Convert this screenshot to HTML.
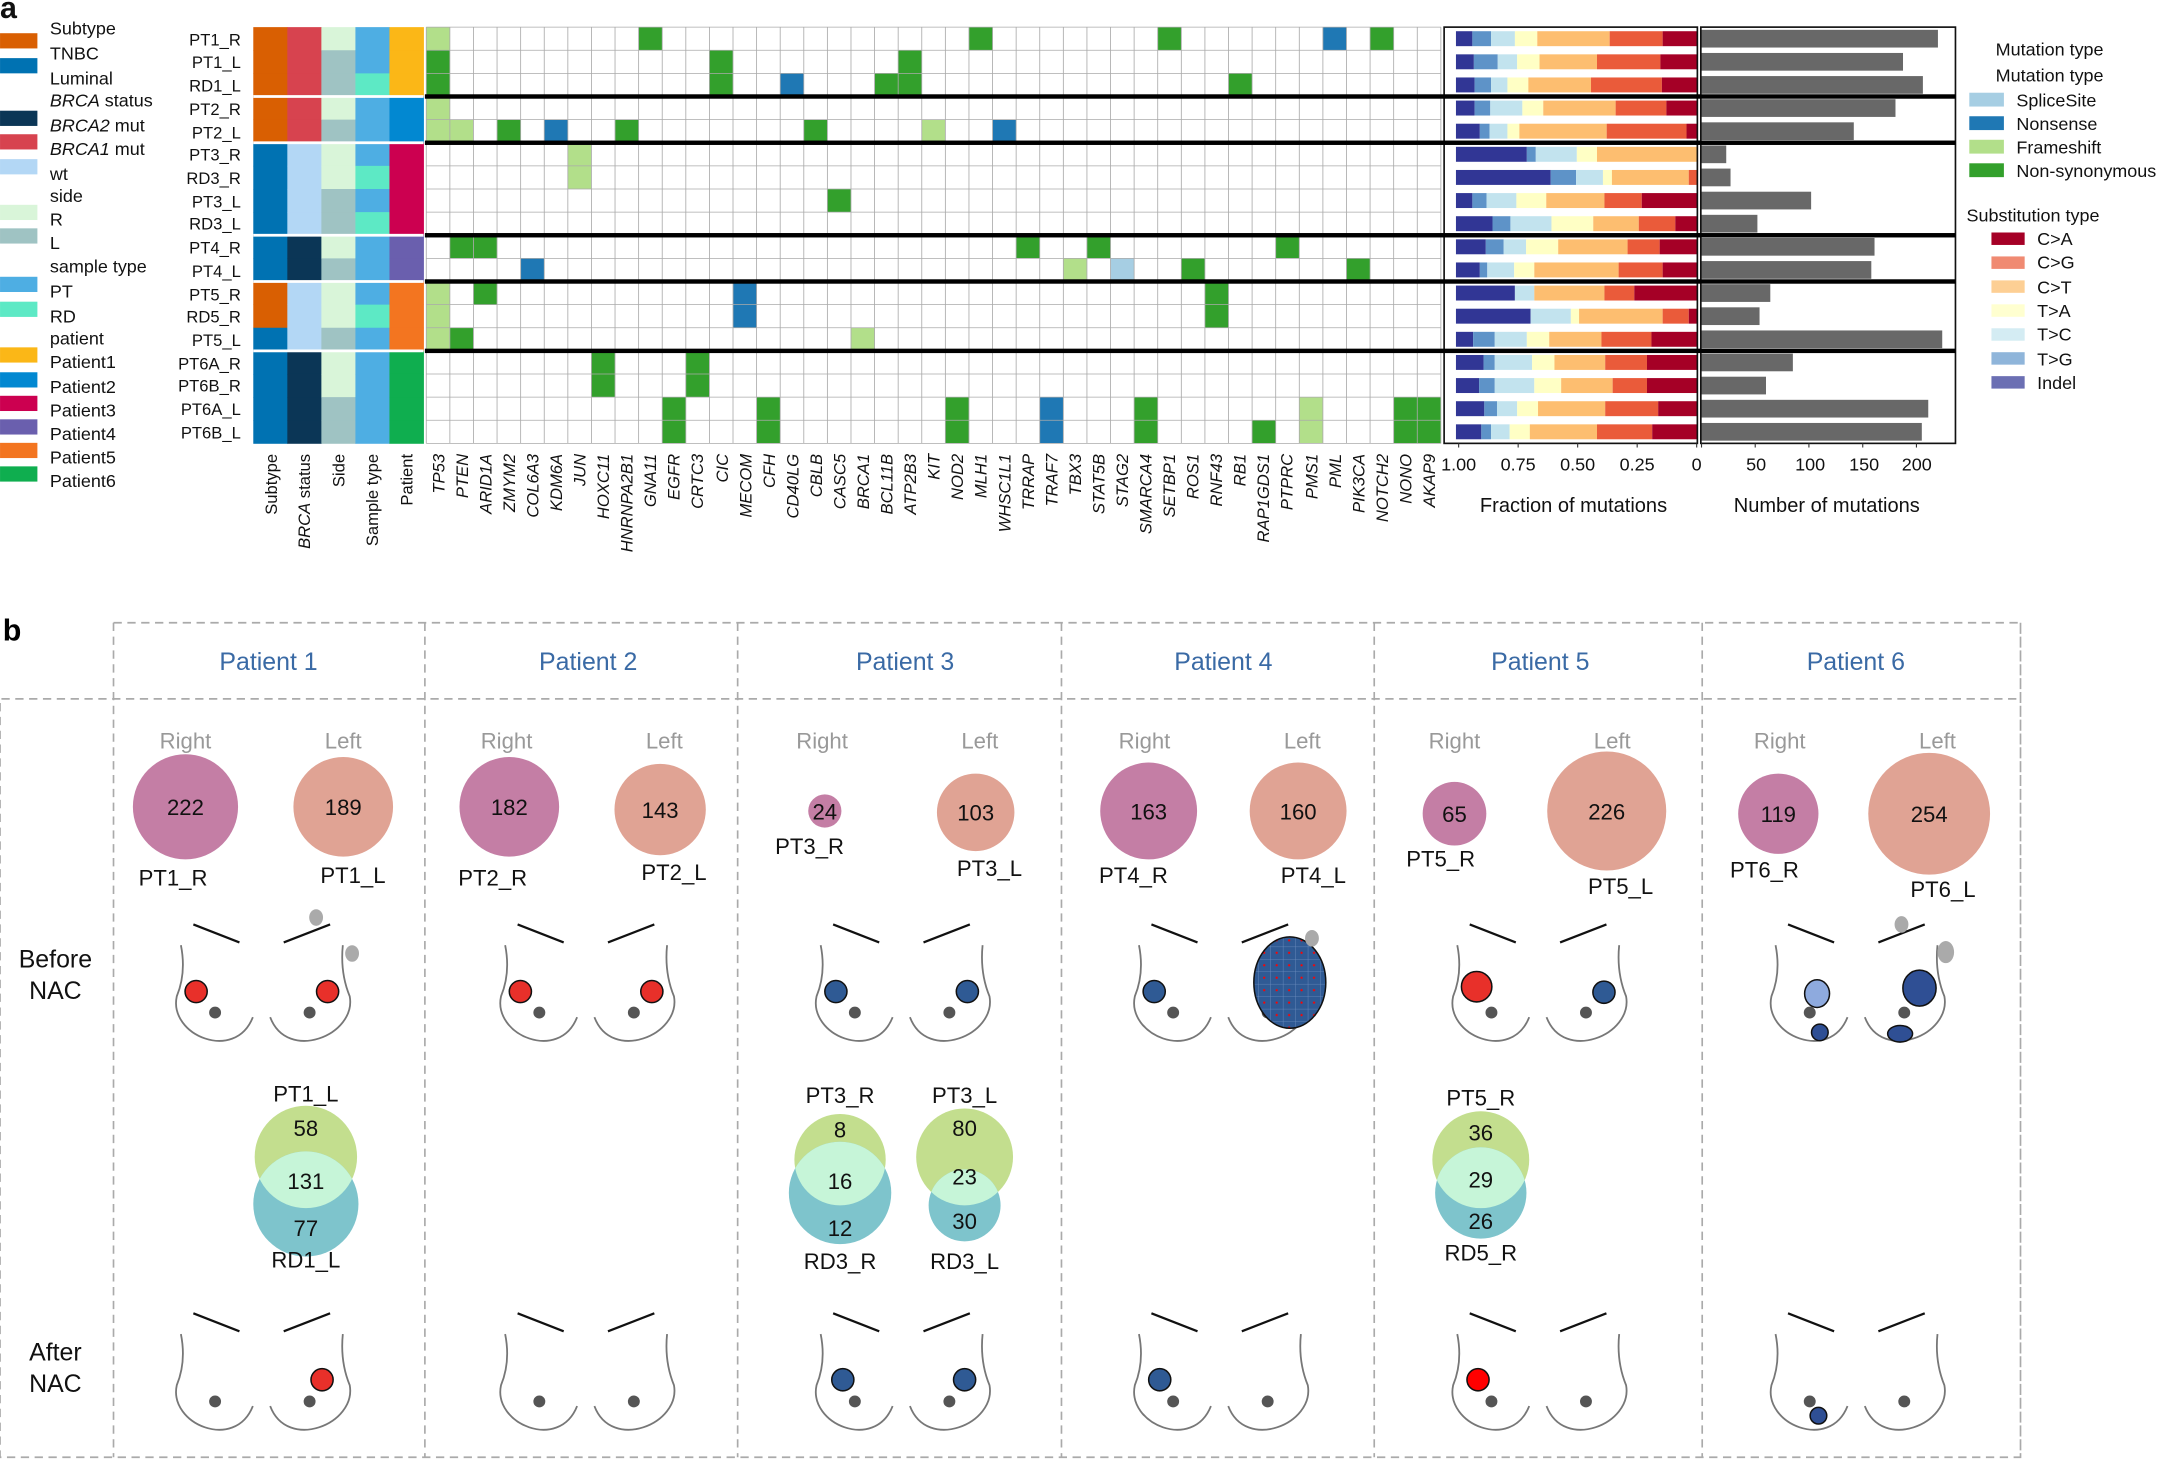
<!DOCTYPE html>
<html><head><meta charset="utf-8"><style>
html,body{margin:0;padding:0;background:#fff}
svg{display:block}
text{font-family:"Liberation Sans",sans-serif}
</style></head><body>
<svg id="s" width="2170" height="1460" viewBox="0 0 1568 1055" xmlns="http://www.w3.org/2000/svg">
<defs>
<pattern id="hatch" width="9" height="9" patternUnits="userSpaceOnUse"><rect width="9" height="9" fill="#2f5a94"/><path d="M0 0H9M0 0V9" stroke="#6f8fbf" stroke-width="0.6"/><circle cx="4.5" cy="4.5" r="0.8" fill="#f00"/></pattern>
</defs>
<g id="dyn"></g>
<!-- left legend text -->
<g font-size="13" fill="#111">
<text x="0" y="13" font-size="22" font-weight="bold">a</text>
<text x="36" y="25">Subtype</text><text x="36" y="43">TNBC</text><text x="36" y="61">Luminal</text>
<text x="36" y="77"><tspan font-style="italic">BRCA</tspan> status</text>
<text x="36" y="95"><tspan font-style="italic">BRCA2</tspan> mut</text><text x="36" y="112"><tspan font-style="italic">BRCA1</tspan> mut</text>
<text x="36" y="130">wt</text><text x="36" y="146">side</text><text x="36" y="163">R</text><text x="36" y="180">L</text>
<text x="36" y="197">sample type</text><text x="36" y="215">PT</text><text x="36" y="233">RD</text><text x="36" y="249">patient</text>
<text x="36" y="266">Patient1</text><text x="36" y="284">Patient2</text><text x="36" y="301">Patient3</text><text x="36" y="318">Patient4</text><text x="36" y="335">Patient5</text><text x="36" y="352">Patient6</text>
</g>
<g font-size="12" fill="#111" text-anchor="end">
<text x="174" y="33">PT1_R</text><text x="174" y="49">PT1_L</text><text x="174" y="66">RD1_L</text><text x="174" y="83">PT2_R</text><text x="174" y="100">PT2_L</text><text x="174" y="116">PT3_R</text><text x="174" y="133">RD3_R</text><text x="174" y="150">PT3_L</text><text x="174" y="166">RD3_L</text><text x="174" y="183">PT4_R</text><text x="174" y="200">PT4_L</text><text x="174" y="217">PT5_R</text><text x="174" y="233">RD5_R</text><text x="174" y="250">PT5_L</text><text x="174" y="267">PT6A_R</text><text x="174" y="283">PT6B_R</text><text x="174" y="300">PT6A_L</text><text x="174" y="317">PT6B_L</text>
</g>
<g font-size="12" fill="#111" text-anchor="end">
<text transform="translate(200,328) rotate(-90)">Subtype</text>
<text transform="translate(224,328) rotate(-90)"><tspan font-style="italic">BRCA</tspan> status</text>
<text transform="translate(249,328) rotate(-90)">Side</text>
<text transform="translate(273,328) rotate(-90)">Sample type</text>
<text transform="translate(298,328) rotate(-90)">Patient</text>
</g>
<g id="genes" font-size="12" fill="#111" text-anchor="end" font-style="italic">
<text transform="translate(321,328) rotate(-90)">TP53</text><text transform="translate(338,328) rotate(-90)">PTEN</text><text transform="translate(355,328) rotate(-90)">ARID1A</text><text transform="translate(372,328) rotate(-90)">ZMYM2</text><text transform="translate(389,328) rotate(-90)">COL6A3</text><text transform="translate(406,328) rotate(-90)">KDM6A</text><text transform="translate(423,328) rotate(-90)">JUN</text><text transform="translate(440,328) rotate(-90)">HOXC11</text><text transform="translate(457,328) rotate(-90)">HNRNPA2B1</text><text transform="translate(474,328) rotate(-90)">GNA11</text><text transform="translate(491,328) rotate(-90)">EGFR</text><text transform="translate(508,328) rotate(-90)">CRTC3</text><text transform="translate(526,328) rotate(-90)">CIC</text><text transform="translate(543,328) rotate(-90)">MECOM</text><text transform="translate(560,328) rotate(-90)">CFH</text><text transform="translate(577,328) rotate(-90)">CD40LG</text><text transform="translate(594,328) rotate(-90)">CBLB</text><text transform="translate(611,328) rotate(-90)">CASC5</text><text transform="translate(628,328) rotate(-90)">BRCA1</text><text transform="translate(645,328) rotate(-90)">BCL11B</text><text transform="translate(662,328) rotate(-90)">ATP2B3</text><text transform="translate(679,328) rotate(-90)">KIT</text><text transform="translate(696,328) rotate(-90)">NOD2</text><text transform="translate(713,328) rotate(-90)">MLH1</text><text transform="translate(730,328) rotate(-90)">WHSC1L1</text><text transform="translate(747,328) rotate(-90)">TRRAP</text><text transform="translate(764,328) rotate(-90)">TRAF7</text><text transform="translate(781,328) rotate(-90)">TBX3</text><text transform="translate(798,328) rotate(-90)">STAT5B</text><text transform="translate(815,328) rotate(-90)">STAG2</text><text transform="translate(832,328) rotate(-90)">SMARCA4</text><text transform="translate(849,328) rotate(-90)">SETBP1</text><text transform="translate(866,328) rotate(-90)">ROS1</text><text transform="translate(883,328) rotate(-90)">RNF43</text><text transform="translate(900,328) rotate(-90)">RB1</text><text transform="translate(917,328) rotate(-90)">RAP1GDS1</text><text transform="translate(934,328) rotate(-90)">PTPRC</text><text transform="translate(952,328) rotate(-90)">PMS1</text><text transform="translate(969,328) rotate(-90)">PML</text><text transform="translate(986,328) rotate(-90)">PIK3CA</text><text transform="translate(1003,328) rotate(-90)">NOTCH2</text><text transform="translate(1020,328) rotate(-90)">NONO</text><text transform="translate(1037,328) rotate(-90)">AKAP9</text>
</g>
<g font-size="13" fill="#111" text-anchor="middle">
<text x="1054" y="340">1.00</text><text x="1097" y="340">0.75</text><text x="1140" y="340">0.50</text><text x="1183" y="340">0.25</text><text x="1226" y="340">0</text>
<text x="1137" y="370" font-size="14.5">Fraction of mutations</text>
<text x="1269" y="340">50</text><text x="1308" y="340">100</text><text x="1347" y="340">150</text><text x="1385" y="340">200</text>
<text x="1320" y="370" font-size="14.5">Number of mutations</text>
</g>
<g font-size="13" fill="#111">
<text x="1442" y="40">Mutation type</text><text x="1442" y="59">Mutation type</text>
<text x="1457" y="77">SpliceSite</text><text x="1457" y="94">Nonsense</text><text x="1457" y="111">Frameshift</text><text x="1457" y="128">Non-synonymous</text>
<text x="1421" y="160">Substitution type</text>
<text x="1472" y="177">C&gt;A</text><text x="1472" y="194">C&gt;G</text><text x="1472" y="212">C&gt;T</text><text x="1472" y="229">T&gt;A</text><text x="1472" y="246">T&gt;C</text><text x="1472" y="264">T&gt;G</text><text x="1472" y="281">Indel</text>
</g>
<!-- panel b -->
<text x="2" y="463" font-size="22" font-weight="bold">b</text>
<g fill="none" stroke="#aaa" stroke-width="1.2" stroke-dasharray="6,4">
<path d="M82 450H1460V1053H0V505H1460M82 450V1053M307 450V1053M533 450V1053M767 450V1053M993 450V1053M1230 450V1053M1460 450V1053"/>
</g>
<g font-size="18" fill="#3a6aa5" text-anchor="middle">
<text x="194" y="484">Patient 1</text><text x="425" y="484">Patient 2</text><text x="654" y="484">Patient 3</text><text x="884" y="484">Patient 4</text><text x="1113" y="484">Patient 5</text><text x="1341" y="484">Patient 6</text>
</g>
<g font-size="18" fill="#111" text-anchor="middle">
<text x="40" y="699">Before</text><text x="40" y="722">NAC</text>
<text x="40" y="983">After</text><text x="40" y="1006">NAC</text>
</g>
<g font-size="16" fill="#999" text-anchor="middle">
<text x="134" y="541">Right</text><text x="248" y="541">Left</text>
<text x="366" y="541">Right</text><text x="480" y="541">Left</text>
<text x="594" y="541">Right</text><text x="708" y="541">Left</text>
<text x="827" y="541">Right</text><text x="941" y="541">Left</text>
<text x="1051" y="541">Right</text><text x="1165" y="541">Left</text>
<text x="1286" y="541">Right</text><text x="1400" y="541">Left</text>
</g>
<g id="circ"></g>
<g font-size="16" fill="#111" text-anchor="middle">
<text x="134" y="589">222</text><text x="248" y="589">189</text>
<text x="368" y="589">182</text><text x="477" y="591">143</text>
<text x="596" y="592">24</text><text x="705" y="593">103</text>
<text x="830" y="592">163</text><text x="938" y="592">160</text>
<text x="1051" y="594">65</text><text x="1161" y="592">226</text>
<text x="1285" y="594">119</text><text x="1394" y="594">254</text>
<text x="125" y="640">PT1_R</text><text x="255" y="638">PT1_L</text>
<text x="356" y="640">PT2_R</text><text x="487" y="636">PT2_L</text>
<text x="585" y="617">PT3_R</text><text x="715" y="633">PT3_L</text>
<text x="819" y="638">PT4_R</text><text x="949" y="638">PT4_L</text>
<text x="1041" y="626">PT5_R</text><text x="1171" y="646">PT5_L</text>
<text x="1275" y="634">PT6_R</text><text x="1404" y="648">PT6_L</text>
<text x="221" y="796">PT1_L</text><text x="221" y="821">58</text><text x="221" y="859">131</text><text x="221" y="893">77</text><text x="221" y="916">RD1_L</text>
<text x="607" y="797">PT3_R</text><text x="607" y="822">8</text><text x="607" y="859">16</text><text x="607" y="893">12</text><text x="607" y="917">RD3_R</text>
<text x="697" y="797">PT3_L</text><text x="697" y="821">80</text><text x="697" y="856">23</text><text x="697" y="888">30</text><text x="697" y="917">RD3_L</text>
<text x="1070" y="799">PT5_R</text><text x="1070" y="824">36</text><text x="1070" y="858">29</text><text x="1070" y="888">26</text><text x="1070" y="911">RD5_R</text>
</g>
<script>
(function(){
var NS="http://www.w3.org/2000/svg";
var dyn=document.getElementById('dyn'), circ=document.getElementById('circ');
function el(p,tag,a){var e=document.createElementNS(NS,tag);for(var k in a)e.setAttribute(k,a[k]);p.appendChild(e);return e;}
var top=19.6,rh=16.71;
// left legend swatches
var lg=[[29,'#d95f02'],[47,'#0072b2'],[85,'#0b3656'],[102,'#d7434f'],[120,'#b3d7f5'],[153,'#d9f5d9'],[170,'#9fc3c3'],[205,'#4eaee3'],[223,'#5de9c5'],[256,'#fbb717'],[274,'#0288d1'],[291,'#cc0050'],[308,'#6a5fae'],[325,'#f37520'],[342,'#0fae4f']];
lg.forEach(function(s){el(dyn,'rect',{x:0,y:s[0]-5,width:27,height:11,fill:s[1]});});
// annotation columns
var TN='#d95f02',LU='#0072b2',BR1='#d7434f',WT='#b3d7f5',BR2='#0b3656',R='#d9f5d9',L='#9fc3c3',PT='#4eaee3',RD='#5de9c5';
var sub=[TN,TN,TN,TN,TN,LU,LU,LU,LU,LU,LU,TN,TN,LU,LU,LU,LU,LU];
var brc=[BR1,BR1,BR1,BR1,BR1,WT,WT,WT,WT,BR2,BR2,WT,WT,WT,BR2,BR2,BR2,BR2];
var side=[R,L,L,R,L,R,R,L,L,R,L,R,R,L,R,R,L,L];
var st=[PT,PT,RD,PT,PT,PT,RD,PT,RD,PT,PT,PT,RD,PT,PT,PT,PT,PT];
var pc=['#fbb717','#0288d1','#cc0050','#6a5fae','#f37520','#0fae4f'];
var pr=[0,0,0,1,1,2,2,2,2,3,3,4,4,4,5,5,5,5];
var cols=[sub,brc,side,st,pr.map(function(i){return pc[i];})];
var cx0=183,cw=24.6;
cols.forEach(function(c,j){c.forEach(function(f,i){el(dyn,'rect',{x:cx0+j*cw,y:top+i*rh,width:cw+0.3,height:rh+0.3,fill:f});});});
// heatmap grid
var gx=308,gw=17.05,ng=43,gx1=gx+gw*ng;
el(dyn,'rect',{x:gx,y:top,width:gx1-gx,height:rh*18,fill:'#fff'});
var NS_='#33a02c',FS='#b2df8a',NO='#1f78b4',SP='#a6cee3';
var cells=[[0,0,FS],[0,9,NS_],[0,23,NS_],[0,31,NS_],[0,38,NO],[0,40,NS_],
[1,0,NS_],[1,12,NS_],[1,20,NS_],
[2,0,NS_],[2,12,NS_],[2,15,NO],[2,19,NS_],[2,20,NS_],[2,34,NS_],
[3,0,FS],[4,0,FS],[4,1,FS],[4,3,NS_],[4,5,NO],[4,8,NS_],[4,16,NS_],[4,21,FS],[4,24,NO],
[5,6,FS],[6,6,FS],[7,17,NS_],
[9,1,NS_],[9,2,NS_],[9,25,NS_],[9,28,NS_],[9,36,NS_],
[10,4,NO],[10,27,FS],[10,29,SP],[10,32,NS_],[10,39,NS_],
[11,0,FS],[11,2,NS_],[11,13,NO],[11,33,NS_],
[12,0,FS],[12,13,NO],[12,33,NS_],
[13,0,FS],[13,1,NS_],[13,18,FS],
[14,7,NS_],[14,11,NS_],[15,7,NS_],[15,11,NS_]];
[16,17].forEach(function(r){[[10,NS_],[14,NS_],[22,NS_],[26,NO],[30,NS_],[37,FS],[41,NS_],[42,NS_]].forEach(function(c){cells.push([r,c[0],c[1]]);});});
cells.push([17,35,NS_]);
cells.forEach(function(c){el(dyn,'rect',{x:gx+c[1]*gw,y:top+c[0]*rh,width:gw,height:rh,fill:c[2]});});
for(var k=0;k<=ng;k++)el(dyn,'line',{x1:gx+k*gw,x2:gx+k*gw,y1:top,y2:top+18*rh,stroke:'#aaa','stroke-width':0.6});
for(var k=0;k<=18;k++)el(dyn,'line',{x1:gx,x2:gx1,y1:top+k*rh,y2:top+k*rh,stroke:'#aaa','stroke-width':0.6});
// fraction panel
var fc=['#313695','#5e93c8','#c2e3ee','#ffffc5','#fdbe70','#ea5b3a','#a50026'];
var fb=[[611,633,658,690,720,817,888,934],[611,635,667,693,723,800,885,934],[611,636,658,680,708,792,887,934],[611,636,657,700,728,825,893,934],[611,643,656,680,696,813,920,934],[611,706,718,773,800,934,934,934],[611,738,772,808,820,923,934,934],[611,633,652,692,732,810,860,934],[611,660,684,739,795,856,905,934],[611,651,675,705,748,841,884,934],[611,643,653,689,716,829,888,934],[611,690,690,716,716,810,850,934],[611,711,711,765,776,888,923,934],[611,634,663,706,736,806,873,934],[611,648,663,713,743,811,867,934],[611,642,663,716,752,821,867,934],[611,649,666,693,721,811,882,934],[611,645,658,683,710,800,874,934]];
function zx(v){return 722.6+v*0.5392;}
fb.forEach(function(b,i){var yc=top+i*rh+rh/2;for(var s=0;s<7;s++){var a=zx(b[s]),e=zx(b[s+1]);if(e>a)el(dyn,'rect',{x:a,y:yc-5.4,width:e-a,height:10.8,fill:fc[s]});}});
// number panel
var cnt=[220,187.5,206,180.5,141.7,23,27,102,52,161,158,64,54,224,85,60,211,205];
cnt.forEach(function(n,i){var yc=top+i*rh+rh/2;el(dyn,'rect',{x:1229.5,y:yc-6.4,width:n*0.7765,height:12.8,fill:'#686868'});});
el(dyn,'rect',{x:1043.5,y:top,width:183,height:rh*18,fill:'none',stroke:'#111','stroke-width':1.2});
el(dyn,'rect',{x:1229,y:top,width:184,height:rh*18,fill:'none',stroke:'#111','stroke-width':1.2});
// separators
[3,5,9,11,14].forEach(function(k){var y=top+k*rh;el(dyn,'rect',{x:183,y:y-1,width:123,height:2,fill:'#fff'});el(dyn,'rect',{x:307,y:y-1.6,width:1106,height:3.2,fill:'#000'});});
// axis ticks
[1054,1097,1140,1183,1226,1229.5,1268.3,1307.1,1346,1384.8].forEach(function(x){el(dyn,'line',{x1:x,x2:x,y1:top+18*rh,y2:top+18*rh+3,stroke:'#333','stroke-width':0.8});});
// right legend swatches
[[72,SP],[89,NO],[106,FS],[123,NS_]].forEach(function(s){el(dyn,'rect',{x:1423,y:s[0]-5,width:25,height:10,fill:s[1]});});
var lc=['#a50026','#f08a72','#fdcf94','#ffffd0','#d4ecf3','#8fb5da','#6b6fb3'];
lc.forEach(function(c,i){el(dyn,'rect',{x:1439,y:168+i*17.3,width:24,height:9,fill:c});});
// bubbles
var M='#c47ea5',S='#e0a394';
[[134,583,38,M],[248,583,36,S],[368,583,36,M],[477,585,33,S],[596,586,12,M],[705,587,28,S],[830,586,35,M],[938,586,35,S],[1051,588,23,M],[1161,586,43,S],[1285,588,29,M],[1394,588,44,S]].forEach(function(c){el(circ,'circle',{cx:c[0],cy:c[1],r:c[2],fill:c[3]});});
// venns
var vid=0;
function venn(x,y1,r1,y2,r2){vid++;var cp=el(circ,'clipPath',{id:'v'+vid});el(cp,'circle',{cx:x,cy:y1,r:r1});
el(circ,'circle',{cx:x,cy:y1,r:r1,fill:'#c3de8e'});el(circ,'circle',{cx:x,cy:y2,r:r2,fill:'#7ec4cc'});
el(circ,'circle',{cx:x,cy:y2,r:r2,fill:'#c6f5d8','clip-path':'url(#v'+vid+')'});}
venn(221,836,37,870,38);venn(607,838,33,862,37);venn(697,836,35,871,26);venn(1070,838,35,862,33);
// breasts
var RED='#e8302a',BL='#2f5a94';
function breast(cx,y0,items){
 el(circ,'line',{x1:cx-50,y1:y0,x2:cx-16.7,y2:y0+13,stroke:'#111','stroke-width':1.6});
 el(circ,'line',{x1:cx+15.3,y1:y0+13,x2:cx+48.8,y2:y0,stroke:'#111','stroke-width':1.6});
 el(circ,'path',{d:'M'+(cx-59)+' '+(y0+15)+'Q'+(cx-55)+' '+(y0+35)+' '+(cx-62)+' '+(y0+52)+'C'+(cx-68)+' '+(y0+80)+' '+(cx-20)+' '+(y0+100)+' '+(cx-7)+' '+(y0+67),fill:'none',stroke:'#777','stroke-width':1.3});
 el(circ,'path',{d:'M'+(cx+5.5)+' '+(y0+67)+'C'+(cx+18)+' '+(y0+100)+' '+(cx+68)+' '+(y0+80)+' '+(cx+63)+' '+(y0+52)+'Q'+(cx+56)+' '+(y0+35)+' '+(cx+58)+' '+(y0+15),fill:'none',stroke:'#777','stroke-width':1.3});
 el(circ,'circle',{cx:cx-34.3,cy:y0+63.7,r:4.3,fill:'#555'});el(circ,'circle',{cx:cx+34,cy:y0+63.7,r:4.3,fill:'#555'});
 items.forEach(function(t){el(circ,'ellipse',{cx:cx+t[0],cy:y0+t[1],rx:t[2],ry:t[3],fill:t[4],stroke:t[5]?'none':'#111','stroke-width':1.1});});
}
var B=668,A=949;
breast(189.7,B,[[-48,48.5,8,8,RED],[47,48.5,8,8,RED],[38.7,-5,5,6,'#aaa',1],[64.7,21,5,6,'#aaa',1]]);
breast(424,B,[[-48,48.5,8,8,RED],[47,48.5,8,8,RED]]);
breast(652,B,[[-48,48.5,8,8,BL],[47,48.5,8,8,BL]]);
breast(882,B,[[-48,48.5,8,8,BL],[50,42,26,33,'url(#hatch)'],[66,10,5,6,'#aaa',1]]);
breast(1112,B,[[-45,45,11,11,RED],[47,49,8,8,BL]]);
breast(1342,B,[[-29,50,9,10,'#8eaade'],[-27,78,6,6,'#2f4f94'],[45,46,12,13,'#2f4f94'],[31,79,9,6,'#2f4f94'],[32,0,5,6,'#aaa',1],[64,20,6,8,'#aaa',1]]);
breast(189.7,A,[[43,48,8,8,RED]]);
breast(424,A,[]);
breast(652,A,[[-43,48,8,8,BL],[45,48,8,8,BL]]);
breast(882,A,[[-44,48,8,8,BL]]);
breast(1112,A,[[-44,48,8,8,'#f00']]);
breast(1342,A,[[-28,74,6,6,'#2f4f94']]);
})();
</script>
</svg>
</body></html>
